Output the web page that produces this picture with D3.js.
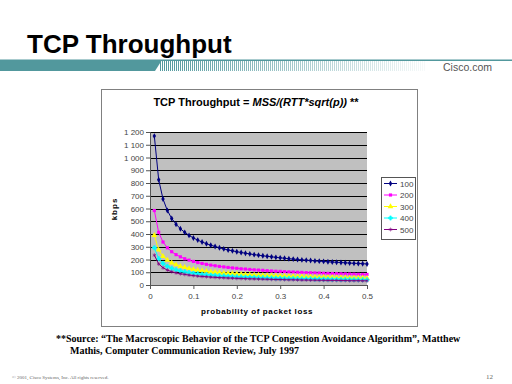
<!DOCTYPE html>
<html>
<head>
<meta charset="utf-8">
<script src="https://cdn.jsdelivr.net/npm/d3@7.9.0/dist/d3.min.js"></script>
<style>
  html, body { margin: 0; padding: 0; background: #fff; }
  svg { display: block; }
</style>
</head>
<body>
<svg id="slide" width="512" height="384"></svg>
<script>
// probability of packet loss, 0.01 .. 0.50
const lossRates = d3.range(1, 51).map((k) => k / 100);

const seriesNames = ['100', '200', '300', '400', '500'];

const rtt100 = [1168, 826, 674, 584, 522, 477, 441, 413, 389, 369, 352, 337, 324, 312, 302, 292, 283, 275, 268, 261,
    255, 249, 244, 238, 234, 229, 225, 221, 217, 213, 210, 206, 203, 200, 197, 195, 192, 189, 187, 185,
    182, 180, 178, 176, 174, 172, 170, 169, 167, 165];
const rtt200 = [584, 413, 337, 292, 261, 238, 221, 206, 195, 185, 176, 169, 162, 156, 151, 146, 142, 138, 134, 131,
    127, 125, 122, 119, 117, 115, 112, 110, 108, 107, 105, 103, 102, 100, 99, 97, 96, 95, 94, 92,
    91, 90, 89, 88, 87, 86, 85, 84, 83, 83];
const rtt300 = [389, 275, 225, 195, 174, 159, 147, 138, 130, 123, 117, 112, 108, 104, 101, 97, 94, 92, 89, 87,
    85, 83, 81, 79, 78, 76, 75, 74, 72, 71, 70, 69, 68, 67, 66, 65, 64, 63, 62, 62,
    61, 60, 59, 59, 58, 57, 57, 56, 56, 55];
const rtt400 = [292, 206, 169, 146, 131, 119, 110, 103, 97, 92, 88, 84, 81, 78, 75, 73, 71, 69, 67, 65,
    64, 62, 61, 60, 58, 57, 56, 55, 54, 53, 52, 52, 51, 50, 49, 49, 48, 47, 47, 46,
    46, 45, 45, 44, 44, 43, 43, 42, 42, 41];
const rtt500 = [234, 165, 135, 117, 104, 95, 88, 83, 78, 74, 70, 67, 65, 62, 60, 58, 57, 55, 54, 52,
    51, 50, 49, 48, 47, 46, 45, 44, 43, 43, 42, 41, 41, 40, 39, 39, 38, 38, 37, 37,
    36, 36, 36, 35, 35, 34, 34, 34, 33, 33];

const xTicks = [0, 0.1, 0.2, 0.3, 0.4, 0.5];
const yTicks = d3.range(0, 1201, 100);

const seriesValues = [rtt100, rtt200, rtt300, rtt400, rtt500];
const seriesColors = ['#000080', '#ff00ff', '#ffff00', '#00ffff', '#800080'];
const seriesShapes = [d3.symbolDiamond, d3.symbolSquare, d3.symbolTriangle, d3.symbolCross, d3.symbolAsterisk];

const svg = d3.select('#slide');
const teal = '#52989d';
const sans = 'Liberation Sans, Arial, sans-serif';
const serif = 'Liberation Serif, Times New Roman, serif';

// slide header
svg.append('text')
    .attr('x', 27).attr('y', 53)
    .attr('font-family', sans)
    .attr('font-weight', 'bold').attr('font-size', 26)
    .text('TCP Throughput');

svg.append('rect').attr('x', 0).attr('y', 59.5).attr('width', 512).attr('height', 1.5).attr('fill', teal);
svg.append('path')
    .attr('d', 'M0,60 L162,60 L155,71 L0,71 Z')
    .attr('fill', teal);
const stripes = d3.range(160, 425, 2);
const fade = d3.scaleLinear().domain([160, 425]).range([1, 0.05]);
svg.append('g').selectAll('rect').data(stripes).join('rect')
    .attr('x', (d) => d).attr('y', 61).attr('width', 1).attr('height', 10)
    .attr('fill', teal).attr('opacity', (d) => fade(d));

svg.append('text')
    .attr('x', 492).attr('y', 71).attr('text-anchor', 'end')
    .attr('font-family', sans)
    .attr('font-size', 10.5).attr('fill', '#555')
    .text('Cisco.com');

// chart frame
svg.append('rect')
    .attr('x', 101.5).attr('y', 89.5).attr('width', 316).attr('height', 237)
    .attr('fill', '#fff').attr('stroke', '#808080');

svg.append('text')
    .attr('x', 256).attr('y', 106).attr('text-anchor', 'middle')
    .attr('font-family', sans)
    .attr('font-weight', 'bold').attr('font-size', 11)
    .call((t) => {
        t.append('tspan').text('TCP Throughput = ');
        t.append('tspan').attr('font-style', 'italic').text('MSS/(RTT*sqrt(p))');
        t.append('tspan').text(' **');
    });

const plot = { left: 150, right: 367, top: 132, bottom: 285 };
const x = d3.scaleLinear().domain([0, 0.5]).range([plot.left, plot.right]);
const y = d3.scaleLinear().domain([0, 1200]).range([plot.bottom, plot.top]);

svg.append('rect')
    .attr('x', plot.left).attr('y', plot.top)
    .attr('width', plot.right - plot.left).attr('height', plot.bottom - plot.top)
    .attr('fill', '#c0c0c0');

svg.append('g').selectAll('line').data(yTicks.filter((d) => d > 0)).join('line')
    .attr('x1', plot.left).attr('x2', plot.right)
    .attr('y1', (d) => Math.round(y(d)) + 0.5).attr('y2', (d) => Math.round(y(d)) + 0.5)
    .attr('stroke', '#000').attr('stroke-width', 1);

const yAxis = svg.append('g')
    .attr('transform', `translate(${plot.left},0)`)
    .call(d3.axisLeft(y).tickValues(yTicks).tickSize(4).tickPadding(2)
        .tickFormat((d) => d3.format(',')(d).replace(',', ' ')));
const xAxis = svg.append('g')
    .attr('transform', `translate(0,${plot.bottom})`)
    .call(d3.axisBottom(x).tickValues(xTicks).tickSize(4).tickPadding(4)
        .tickFormat((d) => d === 0 ? '0' : d3.format('.1f')(d)));

[yAxis, xAxis].forEach((ax) => {
    ax.select('.domain').attr('stroke', '#555');
    ax.selectAll('.tick line').attr('stroke', '#555');
    ax.selectAll('.tick text')
        .attr('font-family', sans)
        .attr('font-size', 8).attr('fill', '#444');
});

// series
const line = d3.line().x((d, i) => x(lossRates[i])).y((d) => y(d));
seriesValues.forEach((vals, si) => {
    const g = svg.append('g');
    g.append('path')
        .attr('d', line(vals))
        .attr('fill', 'none').attr('stroke', seriesColors[si]).attr('stroke-width', 1);
    const sym = d3.symbol().type(seriesShapes[si]).size(si === 2 ? 14 : 10);
    g.selectAll('path.m').data(vals).join('path')
        .attr('class', 'm')
        .attr('transform', (d, i) => `translate(${x(lossRates[i])},${y(d)})`)
        .attr('d', sym)
        .attr('fill', seriesColors[si])
        .attr('stroke', si >= 3 ? seriesColors[si] : 'none')
        .attr('stroke-width', 0.6);
});

// axis titles
svg.append('text')
    .attr('transform', 'translate(117,209) rotate(-90)')
    .attr('text-anchor', 'middle')
    .attr('font-family', sans)
    .attr('font-weight', 'bold').attr('font-size', 8).attr('letter-spacing', 1)
    .text('kbps');
svg.append('text')
    .attr('x', 257).attr('y', 314).attr('text-anchor', 'middle')
    .attr('font-family', sans)
    .attr('font-weight', 'bold').attr('font-size', 8).attr('letter-spacing', 0.6)
    .text('probability of packet loss');

// legend
const legend = svg.append('g').attr('transform', 'translate(381,177)');
legend.append('rect').attr('x', 0.5).attr('y', 0.5).attr('width', 34).attr('height', 62)
    .attr('fill', '#fff').attr('stroke', '#555');
seriesNames.forEach((name, i) => {
    const ly = 6.5 + i * 11.5;
    legend.append('line').attr('x1', 3).attr('x2', 16).attr('y1', ly).attr('y2', ly)
        .attr('stroke', seriesColors[i]);
    legend.append('path')
        .attr('transform', `translate(9.5,${ly})`)
        .attr('d', d3.symbol().type(seriesShapes[i]).size(i === 2 ? 14 : 10))
        .attr('fill', seriesColors[i])
        .attr('stroke', i >= 3 ? seriesColors[i] : 'none').attr('stroke-width', 0.6);
    legend.append('text').attr('x', 19).attr('y', ly + 3)
        .attr('font-family', sans)
        .attr('font-size', 8).attr('fill', '#444')
        .text(name);
});

// source note
const note = svg.append('text')
    .attr('font-family', serif)
    .attr('font-weight', 'bold').attr('font-size', 10);
note.append('tspan').attr('x', 56).attr('y', 342)
    .text('**Source: \u201cThe Macroscopic Behavior of the TCP Congestion Avoidance Algorithm\u201d, Matthew');
note.append('tspan').attr('x', 70).attr('y', 354)
    .text('Mathis, Computer Communication Review, July 1997');

// footer
svg.append('text')
    .attr('x', 12).attr('y', 379)
    .attr('font-family', serif)
    .attr('font-size', 5).attr('fill', '#666')
    .text('\u00a9 2001, Cisco Systems, Inc. All rights reserved.');
svg.append('text')
    .attr('x', 493).attr('y', 379).attr('text-anchor', 'end')
    .attr('font-family', serif)
    .attr('font-size', 7).attr('fill', '#666')
    .text('12');
</script>
</body>
</html>
